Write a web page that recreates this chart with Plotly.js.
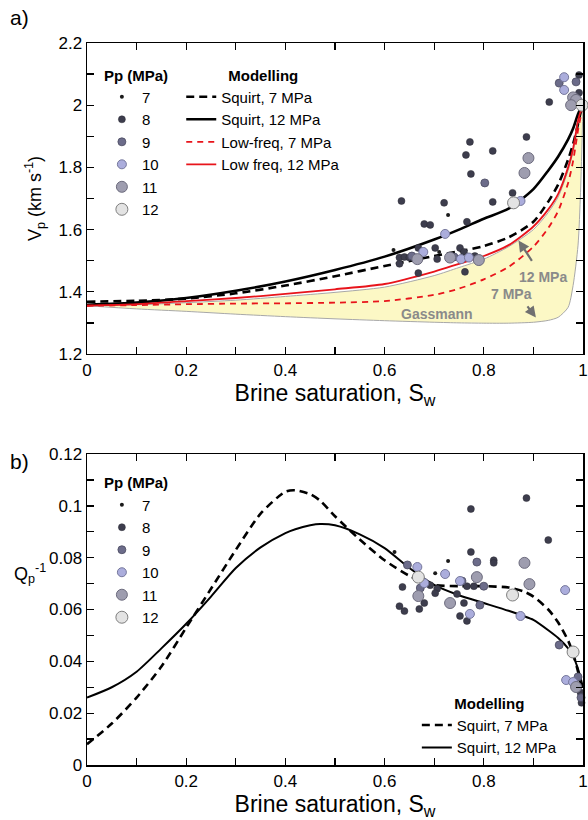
<!DOCTYPE html>
<html>
<head>
<meta charset="utf-8">
<script src="https://cdn.plot.ly/plotly-3.0.1.min.js"></script>
<style>html,body{margin:0;padding:0;background:#fff;}#chart{width:588px;height:820px;}</style>
</head>
<body>
<div id="chart"></div>
<script>
// ---------- Panel a) model curves (Vp, km/s vs brine saturation) ----------
const swModel = [0, 0.1, 0.2, 0.3, 0.4, 0.5, 0.6, 0.7, 0.75, 0.8, 0.85, 0.9, 0.93, 0.95, 0.97, 0.98, 0.99, 0.995, 1.0];
const vpSquirt12 = [1.358, 1.365, 1.38, 1.403, 1.433, 1.47, 1.513, 1.568, 1.60, 1.635, 1.667, 1.73, 1.79, 1.835, 1.89, 1.925, 1.972, 1.988, 2.0];
const vpSquirt7  = [1.368, 1.371, 1.378, 1.395, 1.42, 1.45, 1.483, 1.515, 1.53, 1.547, 1.575, 1.625, 1.69, 1.745, 1.825, 1.875, 1.94, 1.975, 2.0];
const vpLow12    = [1.355, 1.36, 1.37, 1.38, 1.393, 1.408, 1.425, 1.465, 1.49, 1.515, 1.55, 1.61, 1.665, 1.715, 1.80, 1.86, 1.95, 1.98, 2.0];
const vpLow7     = [1.355, 1.357, 1.36, 1.362, 1.363, 1.365, 1.37, 1.39, 1.41, 1.44, 1.48, 1.545, 1.605, 1.66, 1.75, 1.82, 1.92, 1.96, 2.0];
const vpUpperBound = [1.355, 1.358, 1.365, 1.373, 1.385, 1.398, 1.415, 1.452, 1.478, 1.505, 1.545, 1.60, 1.655, 1.705, 1.79, 1.85, 1.935, 1.97, 2.0];
const vpGassmann = [1.355, 1.345, 1.337, 1.328, 1.32, 1.313, 1.307, 1.302, 1.30, 1.299, 1.299, 1.302, 1.308, 1.318, 1.35, 1.42, 1.55, 1.72, 2.0];

// ---------- Panel a) measured Vp ----------
const pressures = [7, 8, 9, 10, 11, 12];
const vpSw = {
  7:  [0.728, 0.618, 0.71, 0.985],
  8:  [0.772, 0.764, 0.774, 0.634, 0.72, 0.766, 0.68, 0.692, 0.668, 0.702, 0.63, 0.64, 0.65, 0.63, 0.668, 0.706, 0.752, 0.76, 0.782, 0.762, 0.886, 0.818, 0.818, 0.858, 0.932, 0.992, 0.992],
  9:  [0.802, 0.952, 0.986, 0.74, 0.655],
  10: [0.722, 0.678, 0.754, 0.77, 0.874, 0.962, 0.962, 0.99],
  11: [0.666, 0.732, 0.79, 0.89, 0.882, 0.98, 0.986, 0.976],
  12: [0.86, 0.998]
};
const vpVal = {
  7:  [1.647, 1.534, 1.528, 2.03],
  8:  [1.882, 1.84, 1.779, 1.692, 1.686, 1.625, 1.618, 1.615, 1.541, 1.541, 1.51, 1.512, 1.51, 1.49, 1.46, 1.505, 1.541, 1.528, 1.515, 1.464, 1.898, 1.853, 1.689, 1.718, 2.01, 2.097, 2.04],
  9:  [1.75, 2.071, 2.075, 1.512, 1.515],
  10: [1.586, 1.528, 1.505, 1.51, 1.692, 2.09, 2.049, 2.007],
  11: [1.505, 1.51, 1.502, 1.83, 1.782, 2.025, 2.017, 2.0],
  12: [1.686, 2.0]
};

// ---------- Panel b) model curves (Qp^-1) ----------
const swQ = [0, 0.05, 0.1, 0.15, 0.2, 0.25, 0.3, 0.35, 0.4, 0.42, 0.45, 0.47, 0.5, 0.55, 0.6, 0.65, 0.7, 0.75, 0.8, 0.85, 0.88, 0.9, 0.93, 0.95, 0.97, 0.98, 0.99, 1.0];
const qSquirt7  = [0.008, 0.016, 0.026, 0.038, 0.053, 0.068, 0.083, 0.097, 0.1055, 0.106, 0.1045, 0.102, 0.096, 0.087, 0.079, 0.073, 0.0695, 0.069, 0.069, 0.0685, 0.067, 0.065, 0.060, 0.055, 0.048, 0.043, 0.036, 0.026];
const qSquirt12 = [0.026, 0.030, 0.036, 0.045, 0.0545, 0.065, 0.076, 0.084, 0.0895, 0.091, 0.0925, 0.093, 0.0925, 0.089, 0.0837, 0.076, 0.0695, 0.0655, 0.0625, 0.0595, 0.0575, 0.056, 0.052, 0.049, 0.045, 0.042, 0.037, 0.03];

// ---------- Panel b) measured Qp^-1 ----------
const qSw = {
  7:  [0.728, 0.702, 0.62],
  8:  [0.886, 0.774, 0.93, 0.774, 0.82, 0.82, 0.636, 0.692, 0.706, 0.766, 0.78, 0.702, 0.746, 0.76, 0.68, 0.63, 0.64, 0.67, 0.752, 0.766, 0.995, 0.997],
  9:  [0.786, 0.646, 0.756, 0.672, 0.80, 0.792, 0.952, 0.99, 0.996],
  10: [0.666, 0.722, 0.752, 0.964, 0.68, 0.772, 0.874, 0.966, 0.98],
  11: [0.786, 0.882, 0.892, 0.668, 0.732, 0.986],
  12: [0.668, 0.858, 0.98]
};
const qVal = {
  7:  [0.0787, 0.074, 0.0822],
  8:  [0.103, 0.0988, 0.0868, 0.0822, 0.079, 0.078, 0.0687, 0.0694, 0.068, 0.069, 0.069, 0.0663, 0.066, 0.0625, 0.0625, 0.0613, 0.0594, 0.0602, 0.0575, 0.0556, 0.028, 0.024],
  9:  [0.0783, 0.0772, 0.071, 0.0683, 0.069, 0.0617, 0.0463, 0.034, 0.026],
  10: [0.0764, 0.0737, 0.071, 0.0675, 0.0702, 0.0583, 0.0575, 0.0328, 0.032],
  11: [0.0725, 0.078, 0.0698, 0.0652, 0.0625, 0.0301],
  12: [0.0725, 0.0656, 0.0436]
};

// ---------- tick labels ----------
const swTicks = [0, 0.2, 0.4, 0.6, 0.8, 1];
const swTickText = ['0', '0.2', '0.4', '0.6', '0.8', '1'];
const vpTicks = [1.2, 1.4, 1.6, 1.8, 2, 2.2];
const vpTickText = ['1.2', '1.4', '1.6', '1.8', '2', '2.2'];
const qTicks = [0, 0.02, 0.04, 0.06, 0.08, 0.1, 0.12];
const qTickText = ['0', '0.02', '0.04', '0.06', '0.08', '0.1', '0.12'];

// ---------- styles ----------
const mstyle = {
  7:  {size: 4,  color: '#1a1a1a', line: {width: 0}},
  8:  {size: 7,  color: '#3d3d4d', line: {width: 0.5, color: '#2a2a35'}},
  9:  {size: 8,  color: '#6c6c8a', line: {width: 0.8, color: '#4a4a60'}},
  10: {size: 9,  color: '#abaddc', line: {width: 1, color: '#76789c'}},
  11: {size: 11, color: '#9e9daf', line: {width: 1, color: '#6d6c7e'}},
  12: {size: 12, color: '#e3e3e3', line: {width: 1, color: '#7e7e7e'}}
};
const RED = '#e8141b';
const GRAYLINE = '#a8a8a8';
const FILL = '#fcf8c5';
const FONT = 'Arial, "Liberation Sans", sans-serif';
const SM = 0.7;

const traces = [];
// fill region (Gassmann bounds)
traces.push({x: swModel, y: vpGassmann, mode: 'lines', line: {color: GRAYLINE, width: 1, shape: 'spline', smoothing: SM}, showlegend: false, xaxis: 'x', yaxis: 'y', hoverinfo: 'skip'});
traces.push({x: swModel, y: vpUpperBound, mode: 'lines', line: {color: GRAYLINE, width: 1, shape: 'spline', smoothing: SM}, fill: 'tonexty', fillcolor: FILL, showlegend: false, xaxis: 'x', yaxis: 'y', hoverinfo: 'skip'});
// model lines a)
traces.push({x: swModel, y: vpSquirt7, mode: 'lines', name: 'Squirt, 7 MPa', line: {color: '#000', width: 2.6, dash: '8px,5px', shape: 'spline', smoothing: SM}, xaxis: 'x', yaxis: 'y', legend: 'legend2'});
traces.push({x: swModel, y: vpSquirt12, mode: 'lines', name: 'Squirt, 12 MPa', line: {color: '#000', width: 2.6, shape: 'spline', smoothing: SM}, xaxis: 'x', yaxis: 'y', legend: 'legend2'});
traces.push({x: swModel, y: vpLow7, mode: 'lines', name: 'Low-freq, 7 MPa', line: {color: RED, width: 1.8, dash: '6px,5px', shape: 'spline', smoothing: SM}, xaxis: 'x', yaxis: 'y', legend: 'legend2'});
traces.push({x: swModel, y: vpLow12, mode: 'lines', name: 'Low freq, 12 MPa', line: {color: RED, width: 1.8, shape: 'spline', smoothing: SM}, xaxis: 'x', yaxis: 'y', legend: 'legend2'});
// scatter a)
pressures.forEach((p) => {
  traces.push({x: vpSw[p], y: vpVal[p], mode: 'markers', name: String(p), marker: mstyle[p], xaxis: 'x', yaxis: 'y', legend: 'legend', cliponaxis: false});
});
// model lines b)
traces.push({x: swQ, y: qSquirt7, mode: 'lines', name: 'Squirt, 7 MPa', line: {color: '#000', width: 2.6, dash: '8px,5px', shape: 'spline', smoothing: SM}, xaxis: 'x2', yaxis: 'y2', legend: 'legend4'});
traces.push({x: swQ, y: qSquirt12, mode: 'lines', name: 'Squirt, 12 MPa', line: {color: '#000', width: 2, shape: 'spline', smoothing: SM}, xaxis: 'x2', yaxis: 'y2', legend: 'legend4'});
// scatter b)
pressures.forEach((p) => {
  traces.push({x: qSw[p], y: qVal[p], mode: 'markers', name: String(p), marker: mstyle[p], xaxis: 'x2', yaxis: 'y2', legend: 'legend3', cliponaxis: false});
});

const axisCommon = {
  showline: true, linecolor: '#000', linewidth: 1.5, mirror: 'ticks',
  ticks: 'inside', ticklen: 7, tickwidth: 1.3, tickcolor: '#000',
  showgrid: false, zeroline: false, tickmode: 'array', ticklabeloverflow: 'allow',
  tickfont: {family: FONT, size: 17, color: '#000'}
};
const minorTicks = (d, t0) => ({tickmode: 'linear', tick0: t0, dtick: d, ticks: 'inside', ticklen: 7, tickwidth: 1.3, tickcolor: '#000', showgrid: false});

const legendBase = {
  bgcolor: 'rgba(0,0,0,0)', borderwidth: 0, xanchor: 'left', yanchor: 'top', traceorder: 'normal',
  font: {family: FONT, size: 15, color: '#000'}, tracegroupgap: 0, itemclick: false
};

const layout = {
  width: 588, height: 820,
  margin: {l: 87, r: 5, t: 43, b: 55},
  paper_bgcolor: '#fff', plot_bgcolor: 'rgba(0,0,0,0)',
  font: {family: FONT, color: '#000'},
  xaxis: Object.assign({}, axisCommon, {domain: [0, 1], range: [0, 1], tickvals: swTicks, ticktext: swTickText, minor: minorTicks(0.1, 0), anchor: 'y',
    title: {text: 'Brine saturation, S<sub>w</sub>', font: {family: FONT, size: 23}, standoff: 4}}),
  yaxis: Object.assign({}, axisCommon, {domain: [0.5693, 1], range: [1.2, 2.2], tickvals: vpTicks, ticktext: vpTickText, minor: minorTicks(0.1, 1.2), anchor: 'x',
    title: {text: 'V<sub>p</sub> (km s<sup>-1</sup>)', font: {family: FONT, size: 18}, standoff: 12}}),
  xaxis2: Object.assign({}, axisCommon, {domain: [0, 1], range: [0, 1], tickvals: swTicks, ticktext: swTickText, minor: minorTicks(0.1, 0), anchor: 'y2',
    title: {text: 'Brine saturation, S<sub>w</sub>', font: {family: FONT, size: 23}, standoff: 8}}),
  yaxis2: Object.assign({}, axisCommon, {domain: [0, 0.4307], range: [0, 0.12], tickvals: qTicks, ticktext: qTickText, minor: minorTicks(0.01, 0), anchor: 'x2'}),
  legend: Object.assign({}, legendBase, {x: 0.03, y: 0.975, title: {text: '<b>Pp (MPa)</b>', font: {family: FONT, size: 15}}}),
  legend2: Object.assign({}, legendBase, {x: 0.19, y: 0.975, title: {text: '<b>Modelling</b>', side: 'top center', font: {family: FONT, size: 15}}}),
  legend3: Object.assign({}, legendBase, {x: 0.03, y: 0.41, title: {text: '<b>Pp (MPa)</b>', font: {family: FONT, size: 15}}}),
  legend4: Object.assign({}, legendBase, {x: 0.665, y: 0.105, title: {text: '<b>Modelling</b>', side: 'top center', font: {family: FONT, size: 15}}}),
  annotations: [
    {xref: 'paper', yref: 'paper', x: -0.16, y: 1.035, text: 'a)', showarrow: false, xanchor: 'left', yanchor: 'middle', font: {family: FONT, size: 21}},
    {xref: 'paper', yref: 'paper', x: -0.16, y: 0.421, text: 'b)', showarrow: false, xanchor: 'left', yanchor: 'middle', font: {family: FONT, size: 21}},
    {xref: 'paper', yref: 'y2', x: -0.115, y: 0.074, text: 'Q<sub>p</sub><sup>-1</sup>', showarrow: false, xanchor: 'center', yanchor: 'middle', font: {family: FONT, size: 18}},
    {xref: 'x', yref: 'y', x: 0.705, y: 1.328, text: '<b>Gassmann</b>', showarrow: false, font: {family: FONT, size: 14, color: '#8a8a8a'}},
    {xref: 'x', yref: 'y', x: 0.92, y: 1.448, text: '<b>12 MPa</b>', showarrow: false, font: {family: FONT, size: 14, color: '#8a8a8a'}},
    {xref: 'x', yref: 'y', x: 0.855, y: 1.393, text: '<b>7 MPa</b>', showarrow: false, font: {family: FONT, size: 14, color: '#8a8a8a'}},
    {xref: 'x', yref: 'y', axref: 'x', ayref: 'y', x: 0.87, y: 1.565, ax: 0.903, ay: 1.485, text: ' ', showarrow: true, arrowhead: 2, arrowsize: 1, arrowwidth: 2.2, arrowcolor: '#707070'},
    {xref: 'x', yref: 'y', axref: 'x', ayref: 'y', x: 0.905, y: 1.317, ax: 0.882, ay: 1.366, text: ' ', showarrow: true, arrowhead: 2, arrowsize: 1, arrowwidth: 2.2, arrowcolor: '#707070'}
  ]
};

Plotly.newPlot('chart', traces, layout, {displayModeBar: false, staticPlot: true});
</script>
</body>
</html>
